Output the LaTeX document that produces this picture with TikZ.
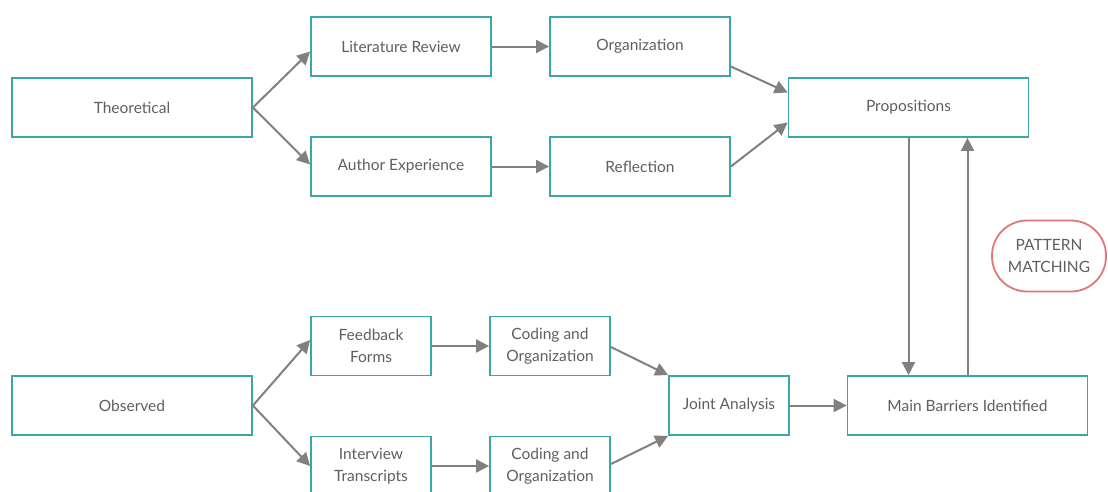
\documentclass[tikz,border=0pt]{standalone}
\usepackage{fontspec}
\setmainfont{Lato}
\usetikzlibrary{arrows.meta}
\definecolor{boxteal}{RGB}{58,166,166}
\definecolor{arrgray}{RGB}{128,128,128}
\definecolor{txtgray}{RGB}{95,95,95}
\definecolor{pmred}{RGB}{224,120,120}
\begin{document}
\begin{tikzpicture}[x=1pt,y=-1pt,
  box/.style={draw=boxteal,line width=1.8pt,fill=white,minimum height=59pt,inner sep=0pt,
    text=txtgray,font=\fontsize{15.5}{22}\selectfont,align=center},
  wide/.style={box,minimum width=240pt},
  mid/.style={box,minimum width=180pt},
  small/.style={box,minimum width=120pt},
  pm/.style={draw=pmred,line width=1.8pt,fill=white,rounded corners=35pt,minimum width=114pt,
    minimum height=71pt,inner sep=0pt,text=txtgray,font=\fontsize{15.5}{22}\selectfont,align=center},
  arr/.style={draw=arrgray,line width=2pt,-{Triangle[length=13pt,width=13pt]}}]
\useasboundingbox (0,0) rectangle (1108,491);
\node[wide] (theo) at (132,107.5) {Theoretical};
\node[mid] (lit) at (401,46.5) {Literature Review};
\node[mid] (org) at (640,46.5) {Organization};
\node[mid] (auth) at (401,166.5) {Author Experience};
\node[mid] (refl) at (640,166.5) {Reflection};
\node[wide] (prop) at (908.5,107.5) {Propositions};
\node[pm] (pat) at (1049,256) {PATTERN\\MATCHING};
\node[wide] (obs) at (132,405.5) {Observed};
\node[small] (feed) at (371,346) {Feedback\\Forms};
\node[small] (cod1) at (550,346) {Coding and\\Organization};
\node[small] (int) at (371,466) {Interview\\Transcripts};
\node[small] (cod2) at (550,466) {Coding and\\Organization};
\node[small] (joint) at (729,405.5) {Joint Analysis};
\node[wide] (main) at (967.5,405.5) {Main Barriers Identified};
\draw[arr] (theo.east) -- ([yshift=-5pt]lit.west);
\draw[arr] (theo.east) -- ([yshift=2pt]auth.west);
\draw[arr] (lit.east) -- (org.west);
\draw[arr] (auth.east) -- (refl.west);
\draw[arr] ([yshift=-20pt]org.east) -- ([yshift=15pt]prop.west);
\draw[arr] (refl.east) -- ([yshift=-15pt]prop.west);
\draw[arr] (prop.south) -- (prop.south |- main.north);
\draw[arr] (main.north) -- (main.north |- prop.south);
\draw[arr] (obs.east) -- ([yshift=6pt]feed.west);
\draw[arr] (obs.east) -- (int.west);
\draw[arr] (feed.east) -- (cod1.west);
\draw[arr] (int.east) -- (cod2.west);
\draw[arr] ([yshift=-1pt]cod1.east) -- (joint.north west);
\draw[arr] ([yshift=2pt]cod2.east) -- (joint.south west);
\draw[arr] (joint.east) -- (main.west);
\end{tikzpicture}
\end{document}
